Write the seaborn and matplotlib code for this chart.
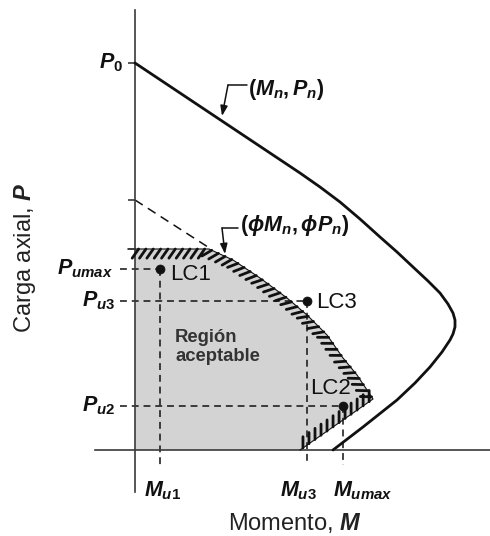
import matplotlib
matplotlib.use("Agg")
import matplotlib.pyplot as plt
import matplotlib.patheffects as pe
import numpy as np
import pandas as pd
import seaborn as sns

# nominal interaction curve (Mn, Pn), arbitrary units
m_nominal = [0, 87, 165, 185, 205, 225, 245, 262, 278, 293, 305, 313, 318, 320, 320, 318, 315, 307,
             295, 280, 262, 228, 198]
p_nominal = [387, 329, 277, 263, 248, 231, 213, 198, 183, 169, 157, 146, 137, 130, 123, 116, 110, 98,
             83, 67, 50, 23, 0]

# design curve (phi Mn, phi Pn) with the Pmax cap
m_design = [0, 74, 98, 125, 152, 172, 192, 208, 222, 238, 165, 0]
p_design = [201, 201, 190, 172, 152, 135, 115, 92, 75, 51, 0, 0]
m_design_ext = [0, 76]
p_design_ext = [250, 201]

# load cases
cases = ["LC1", "LC3", "LC2"]
m_case = [25, 172, 208]
p_case = [181, 149, 44]
m_labels = ["$M_{u1}$", "$M_{u3}$", "$M_{umax}$"]
p_labels = ["$P_{umax}$", "$P_{u3}$", "$P_{u2}$"]
p_zero = 387

sns.set_theme(style="white")
plt.rcParams["font.family"] = ["Liberation Sans", "DejaVu Sans"]
plt.rcParams["mathtext.fontset"] = "custom"
plt.rcParams["mathtext.it"] = "Liberation Sans:italic:bold"
plt.rcParams["mathtext.rm"] = "Liberation Sans:bold"
plt.rcParams["mathtext.bf"] = "Liberation Sans:bold"

fig = plt.figure(figsize=(4.9, 5.36), dpi=100)
ax = fig.add_axes([0, 0, 1, 1])
ax.set_xlim(-135, 355)
ax.set_ylim(-86, 450)
ax.set_facecolor("white")

axis_col = "#3a3a3a"
ink = "#111111"
dash = (0, (4.5, 3.2))

# axes lines through the origin
for side in ["top", "right"]:
    ax.spines[side].set_visible(False)
ax.spines["left"].set_position(("data", 0))
ax.spines["bottom"].set_position(("data", 0))
ax.spines["left"].set_bounds(-42, 440)
ax.spines["bottom"].set_bounds(-40, 355)
for side in ["left", "bottom"]:
    ax.spines[side].set_color(axis_col)
    ax.spines[side].set_linewidth(1.2)
ax.set_yticks([p_zero, p_design_ext[0], p_design[0]])
ax.set_yticklabels([])
ax.set_xticks([])
ax.tick_params(axis="y", direction="out", length=5, width=1.2, color=axis_col, left=True)

# acceptable region
ax.fill(m_design, p_design, color="#d3d3d3", lw=0, zorder=1)
ax.plot(m_design[:-1], p_design[:-1], color=ink, lw=0.8, zorder=3,
        path_effects=[pe.withTickedStroke(spacing=5.2, angle=-125, length=1.55, linewidth=2.0)])
ax.plot([-7, 0], [p_design[0], p_design[0]], color=axis_col, lw=1.2, zorder=3)
ax.plot(m_design_ext, p_design_ext, color=ink, lw=1.1, linestyle=(0, (6, 4)), zorder=2)

# nominal curve
sns.lineplot(x=m_nominal, y=p_nominal, sort=False, estimator=None, color=ink, lw=2.0, ax=ax, zorder=4)

# load cases with reference lines
for i in range(len(cases)):
    ax.plot([-15, m_case[i]], [p_case[i], p_case[i]], color=ink, lw=1.1, linestyle=dash, zorder=2)
    ax.plot([m_case[i], m_case[i]], [p_case[i], -15], color=ink, lw=1.1, linestyle=dash, zorder=2)
sns.scatterplot(x=m_case, y=p_case, color=ink, s=42, edgecolor=ink, ax=ax, zorder=5)

ax.text(35, 175, "LC1", fontsize=16, va="center", ha="left", color=ink)
ax.text(181, 148, "LC3", fontsize=16, va="center", ha="left", color=ink)
ax.text(175, 62, "LC2", fontsize=16, va="center", ha="left", color=ink)
ax.text(40, 103, "Región\naceptable", fontsize=13.3, fontweight="bold", va="center", ha="left",
        color="#333333", linespacing=1.1)

# tick labels
lab = dict(fontsize=15.5, color=ink)
ax.text(-12, p_zero, "$P_0$", ha="right", va="center", **lab)
ax.text(-22, p_case[0], p_labels[0], ha="right", va="center", **lab)
ax.text(-20, p_case[1], p_labels[1], ha="right", va="center", **lab)
ax.text(-20, p_case[2], p_labels[2], ha="right", va="center", **lab)
ax.text(m_case[0] + 3, -29, m_labels[0], ha="center", va="top", **lab)
ax.text(m_case[1] - 9, -29, m_labels[1], ha="center", va="top", **lab)
ax.text(m_case[2] - 10, -29, m_labels[2], ha="left", va="top", **lab)

# curve callouts
arrow = dict(arrowstyle="-|>,head_length=0.5,head_width=0.18", color=ink, lw=1.1, shrinkA=0, shrinkB=0)
ax.text(113, 360, "$(M_n,P_n)$", ha="left", va="center", **lab)
ax.plot([112, 93], [365, 365], color=ink, lw=1.1)
ax.annotate("", xy=(87, 334), xytext=(93, 365), arrowprops=arrow)
ax.text(105, 225, r"$(\phi M_n,\phi P_n)$", ha="left", va="center", **lab)
ax.plot([103, 87], [222, 222], color=ink, lw=1.1)
ax.annotate("", xy=(90, 196), xytext=(87, 222), arrowprops=arrow)

# axis titles
ax.text(160, -73, "Momento, $M$", ha="center", va="center", fontsize=17, color="#222222")
ax.text(-110, 192, "Carga axial, $P$", ha="center", va="center", rotation=90, fontsize=17,
        color="#222222")

fig.savefig("out.png", dpi=100)
